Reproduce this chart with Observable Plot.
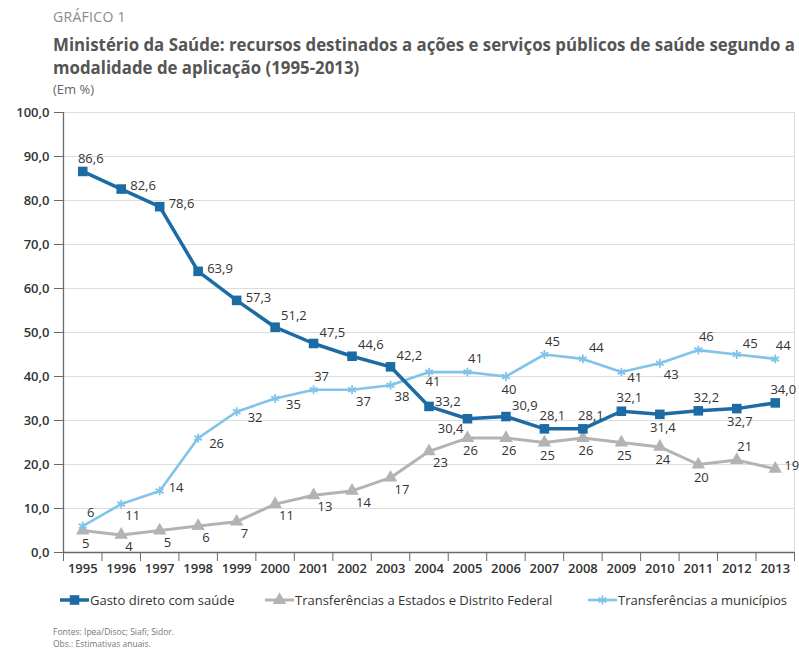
<!DOCTYPE html>
<html><head><meta charset="utf-8">
<script src="https://cdn.jsdelivr.net/npm/d3@7"></script>
<script src="https://cdn.jsdelivr.net/npm/@observablehq/plot@0.6"></script>
<style>
body{margin:0;background:#fff;font-family:"Open Sans",sans-serif;width:799px;height:655px;position:relative;overflow:hidden}
#kicker{position:absolute;left:53px;top:7px;font-size:14px;color:#8a8a8a;letter-spacing:0.3px}
#title{position:absolute;left:53px;top:33px;font-size:17px;font-weight:700;color:#555;line-height:23px;white-space:nowrap;transform-origin:0 0}
#unit{position:absolute;left:53px;top:80px;font-size:13px;color:#666}
#chart{position:absolute;left:0;top:100px}
.leg{position:absolute;top:591px;font-size:13px;color:#333;display:flex;align-items:center;white-space:nowrap}
.leg svg{margin-right:1px}
#foot{position:absolute;left:53px;top:626px;font-size:8.5px;color:#777;line-height:12px}
</style></head>
<body>
<div id="kicker">GRÁFICO 1</div>
<div id="title"><span id="t1">Ministério da Saúde: recursos destinados a ações e serviços públicos de saúde segundo a</span><br><span>modalidade de aplicação (1995-2013)</span></div>
<div id="unit">(Em %)</div>
<div id="chart"></div>
<div id="legendbox"></div>
<div id="foot">Fontes: Ipea/Disoc; Siafi; Sidor.<br>Obs.: Estimativas anuais.</div>
<script>
const years = [1995,1996,1997,1998,1999,2000,2001,2002,2003,2004,2005,2006,2007,2008,2009,2010,2011,2012,2013];
const gasto = [86.6,82.6,78.6,63.9,57.3,51.2,47.5,44.6,42.2,33.2,30.4,30.9,28.1,28.1,32.1,31.4,32.2,32.7,34.0];
const estados = [5,4,5,6,7,11,13,14,17,23,26,26,25,26,25,24,20,21,19];
const municipios = [6,11,14,26,32,35,37,37,38,41,41,40,45,44,41,43,46,45,44];
// label placement codes (a = above, b = below, r = right, ar/br = above/below right, bl = below left, rb = right lower)
const gastoPos = ["a","r","r","r","r","ar","ar","ar","ar","ar2","bl","ar","a","a","a","b","a","b","a"];
const estadosPos = ["b","br","br","br","br","br","br","br","br","br","b","b","b","b","b","b","b","a","r"];
const municipiosPos = ["a","br","r","rb","rb","rb","a","br","br","b2","a","b","a","ar","rs","br","a","ar","a"];
const yTicks = [0,10,20,30,40,50,60,70,80,90,100];
const seriesNames = ["Gasto direto com saúde","Transferências a Estados e Distrito Federal","Transferências a municípios"];

const styles = {
  "Gasto direto com saúde": {color:"#1c6ba4", symbol:"square", width:3.5, r:5.4},
  "Transferências a Estados e Distrito Federal": {color:"#b3b3b3", symbol:"triangle", width:3, r:5},
  "Transferências a municípios": {color:"#80c4ea", symbol:"asterisk", width:2.6, r:4.2}
};
const series = [
  {name:seriesNames[0], values:gasto, pos:gastoPos, fmt:d=>d.toFixed(1).replace(".",",")},
  {name:seriesNames[1], values:estados, pos:estadosPos, fmt:d=>String(d)},
  {name:seriesNames[2], values:municipios, pos:municipiosPos, fmt:d=>String(d)}
];
const offsets = {
  a:{dx:8,dy:-13,textAnchor:"middle"},
  b:{dx:3,dy:13,textAnchor:"middle"},
  b2:{dx:4,dy:10,textAnchor:"middle"},
  r:{dx:9,dy:-3,textAnchor:"start"},
  rb:{dx:11,dy:6,textAnchor:"start"},
  rs:{dx:6,dy:6,textAnchor:"start"},
  ar:{dx:6,dy:-11,textAnchor:"start"},
  ar2:{dx:6,dy:-5,textAnchor:"start"},
  br:{dx:4,dy:12,textAnchor:"start"},
  bl:{dx:-4,dy:10,textAnchor:"end"}
};
const boundaries = years.map(y => y - 0.5).concat([years[years.length-1] + 0.5]);

const drawOrder = [series[1], series[2], series[0]];
const marks = [
  Plot.gridY(yTicks, {stroke:"#dcdcdc", strokeOpacity:1, strokeWidth:1}),
  Plot.ruleX([boundaries[boundaries.length-1]], {stroke:"#dcdcdc", strokeWidth:1}),
  Plot.ruleX([boundaries[0]], {stroke:"#6a6a6a", strokeWidth:1.3}),
  Plot.ruleY([0], {stroke:"#6a6a6a", strokeWidth:1.3}),
  Plot.axisY({ticks:yTicks, tickSize:9, tickPadding:5, stroke:"#6a6a6a", tickFormat:d=>d.toFixed(1).replace(".",","), fill:"#333", fontWeight:600, label:null}),
  Plot.axisX({ticks:boundaries, tickSize:9, stroke:"#6a6a6a", tickFormat:()=>"", label:null}),
  Plot.axisX({ticks:years, tickSize:0, tickPadding:11, tickFormat:d=>String(d), fill:"#333", fontWeight:600, label:null})
];
for (const s of drawOrder) {
  const st = styles[s.name];
  const rows = years.map((year,i)=>({year, value:s.values[i], pos:s.pos[i], label:s.fmt(s.values[i])}));
  marks.push(Plot.line(rows, {x:"year", y:"value", stroke:st.color, strokeWidth:st.width, strokeLinejoin:"round"}));
  if (st.symbol === "asterisk") {
    marks.push(Plot.dot(rows, {x:"year", y:"value", symbol:"asterisk", r:st.r, stroke:st.color, strokeWidth:1.8}));
  } else {
    marks.push(Plot.dot(rows, {x:"year", y:"value", symbol:st.symbol, r:st.r, fill:st.color, stroke:"none"}));
  }
}
for (const s of series) {
  const rows = years.map((year,i)=>({year, value:s.values[i], pos:s.pos[i], label:s.fmt(s.values[i])}));
  for (const [code, o] of Object.entries(offsets)) {
    const sub = rows.filter(r => r.pos === code);
    if (sub.length) marks.push(Plot.text(sub, {x:"year", y:"value", text:"label", dx:o.dx, dy:o.dy, textAnchor:o.textAnchor, fill:"#333", fontSize:13}));
  }
}

const chart = Plot.plot({
  width: 799,
  height: 485,
  marginLeft: 63,
  marginRight: 5,
  marginTop: 12,
  marginBottom: 33,
  x: {type:"linear", domain:[boundaries[0], boundaries[boundaries.length-1]]},
  y: {domain:[0,100]},
  style: {fontFamily:"'Open Sans', sans-serif", fontSize:"13px", color:"#333", background:"#fff"},
  marks
});
document.getElementById("chart").appendChild(chart);

// legend
const legendX = [60, 265, 588];
const box = document.getElementById("legendbox");
seriesNames.forEach((name, i) => {
  const st = styles[name];
  const div = document.createElement("div");
  div.className = "leg";
  div.style.left = legendX[i] + "px";
  const svg = d3.create("svg").attr("width", 29).attr("height", 16);
  svg.append("line").attr("x1",0).attr("x2",29).attr("y1",8).attr("y2",8).attr("stroke",st.color).attr("stroke-width",st.width);
  const sym = {square:d3.symbolSquare, triangle:d3.symbolTriangle, asterisk:d3.symbolAsterisk}[st.symbol];
  const p = svg.append("path").attr("transform","translate(14.5,8)").attr("d", d3.symbol(sym, Math.PI*st.r*st.r)());
  if (st.symbol === "asterisk") p.attr("fill","none").attr("stroke",st.color).attr("stroke-width",1.8);
  else p.attr("fill",st.color);
  div.appendChild(svg.node());
  const sp = document.createElement("span"); sp.textContent = name; div.appendChild(sp);
  box.appendChild(div);
});

// fit title width
const t1 = document.getElementById("t1");
const w = t1.getBoundingClientRect().width;
document.getElementById("title").style.transform = `scaleX(${742 / w})`;
</script>
</body></html>
